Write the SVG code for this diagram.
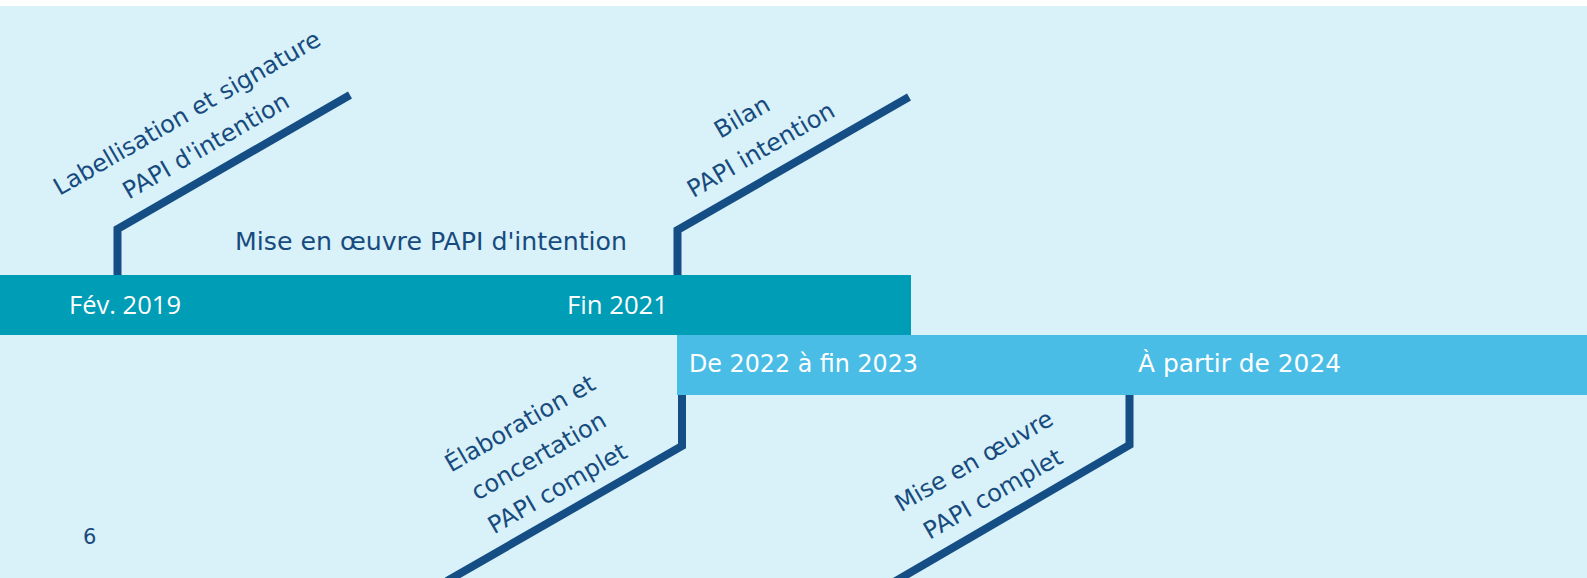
<svg xmlns="http://www.w3.org/2000/svg" width="1587" height="578" viewBox="0 0 1587 578">
<style>
.lbl{font-family:"DejaVu Sans","Noto Sans",sans-serif;font-size:24px;fill:#174b7e;}
.rot{text-anchor:middle;}
.bar{font-family:"DejaVu Sans","Noto Sans",sans-serif;font-size:24px;fill:#ffffff;}
.date{font-family:"Open Sans","Noto Sans",sans-serif;font-size:25px;fill:#ffffff;}
.conn{fill:none;stroke:#154e85;stroke-width:8;stroke-linejoin:miter;stroke-linecap:butt;}
</style>
<rect x="0" y="0" width="1587" height="578" fill="#ffffff"/>
<rect x="0" y="6" width="1587" height="572" fill="#d9f1f9"/>
<g id="bar-phase1">
<rect x="0" y="275" width="911" height="60" fill="#009db6"/>
<text class="date" x="69" y="314" textLength="112" lengthAdjust="spacingAndGlyphs">Fév. 2019</text>
<text class="date" x="567" y="314" textLength="101" lengthAdjust="spacingAndGlyphs">Fin 2021</text>
</g>
<g id="bar-phase2">
<rect x="677" y="335" width="910" height="60" fill="#49bde6"/>
<text class="bar" x="689" y="372" textLength="229" lengthAdjust="spacingAndGlyphs">De 2022 à fin 2023</text>
<text class="bar" x="1138" y="372" textLength="203" lengthAdjust="spacingAndGlyphs">À partir de 2024</text>
</g>
<g id="connectors">
<polyline class="conn" points="117.5,275 117.5,229 350,95"/>
<polyline class="conn" points="677.5,275 677.5,230 909,97"/>
<polyline class="conn" points="682,395 682,446 447,581"/>
<polyline class="conn" points="1129.5,395 1129.5,445 894,582"/>
</g>
<g id="label-mise-oeuvre-intention">
<text class="lbl" x="235" y="250" textLength="392" lengthAdjust="spacingAndGlyphs">Mise en œuvre PAPI d'intention</text>
</g>
<g id="label-labellisation" transform="translate(191,120) rotate(-30)">
<text class="lbl rot" x="0" y="0">Labellisation et signature</text>
<text class="lbl rot" x="0" y="38">PAPI d'intention</text>
</g>
<g id="label-bilan" transform="translate(746,124) rotate(-30)">
<text class="lbl rot" x="0" y="0">Bilan</text>
<text class="lbl rot" x="0" y="38">PAPI intention</text>
</g>
<g id="label-elaboration" transform="translate(524,430.5) rotate(-30)">
<text class="lbl rot" x="0" y="0">Élaboration et</text>
<text class="lbl rot" x="0" y="37.5">concertation</text>
<text class="lbl rot" x="0" y="75">PAPI complet</text>
</g>
<g id="label-mise-oeuvre-complet" transform="translate(978,468) rotate(-30)">
<text class="lbl rot" x="0" y="0">Mise en œuvre</text>
<text class="lbl rot" x="0" y="38">PAPI complet</text>
</g>
<g id="page-number">
<text class="lbl" x="83" y="544" style="font-size:21px">6</text>
</g>
</svg>
